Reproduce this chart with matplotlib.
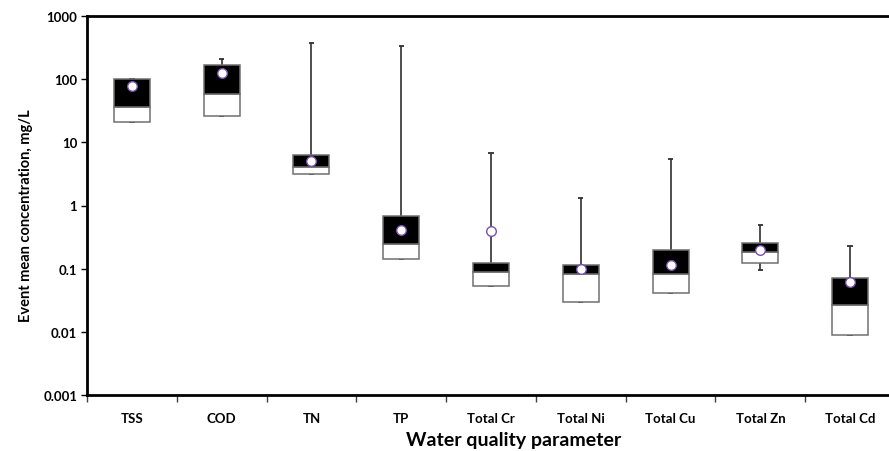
import numpy as np
import matplotlib
matplotlib.use('Agg')
import matplotlib.pyplot as plt
from matplotlib.ticker import FixedLocator, NullLocator

plt.rcParams['font.family'] = ['Lato', 'DejaVu Sans']

params = ['TSS', 'COD', 'TN', 'TP', 'Total Cr', 'Total Ni', 'Total Cu', 'Total Zn', 'Total Cd']
# box statistics, mg/L
q_min = [21.3, 25.9, 3.1, 0.141, 0.0534, 0.0298, 0.0414, 0.0957, 0.00897]
q1 = [21.3, 25.9, 3.1, 0.141, 0.0534, 0.0298, 0.0414, 0.125, 0.00897]
med = [35.9, 57.7, 4.0, 0.247, 0.087, 0.0817, 0.0837, 0.182, 0.0267]
q3 = [100, 170, 6.2, 0.68, 0.122, 0.116, 0.200, 0.253, 0.0724]
q_max = [100, 209, 370, 335, 6.9, 1.30, 5.46, 0.50, 0.23]
mean = [77, 127, 5.1, 0.415, 0.396, 0.099, 0.115, 0.200, 0.061]

fig = plt.figure(figsize=(8.89, 4.52), dpi=100)
ax = fig.add_axes([87/889, 56/452, 808/889, 379/452])
ax.set_yscale('log')

x = np.arange(len(params))
w = 0.4
q1a, meda, q3a = np.array(q1), np.array(med), np.array(q3)

# whiskers first so the boxes sit on top
for xi, lo, b, t, hi in zip(x, q_min, q1, q3, q_max):
    ax.vlines(xi, t, hi, color='#404040', lw=1.3, zorder=1)
    ax.hlines(hi, xi - 0.03, xi + 0.03, color='#303030', lw=1.3, zorder=1)
    ax.vlines(xi, lo, b, color='#404040', lw=1.3, zorder=1)
    ax.hlines(lo, xi - 0.03, xi + 0.03, color='#303030', lw=1.3, zorder=1)

ax.bar(x, meda - q1a, bottom=q1a, width=w, color='white', edgecolor='#707070', lw=1.1, zorder=2)
ax.bar(x, q3a - meda, bottom=meda, width=w, color='black', edgecolor='#707070', lw=1.1, zorder=2)
ax.scatter(x, mean, s=48, marker='o', facecolor='white', edgecolor='#7b4fb0', lw=1.0, zorder=3)

ax.set_xlim(-0.5, len(params) - 0.5)
ax.set_ylim(0.001, 1000)
yt = [0.001, 0.01, 0.1, 1, 10, 100, 1000]
ax.yaxis.set_major_locator(FixedLocator(yt))
ax.yaxis.set_minor_locator(NullLocator())
ax.set_yticklabels(['0.001', '0.01', '0.1', '1', '10', '100', '1000'], fontsize=9.5, fontweight='bold')

ax.set_xticks(x)
ax.set_xticklabels(params, fontsize=9.5, fontweight='bold')
ax.tick_params(axis='x', which='major', length=0, pad=12)
ax.set_xticks(np.arange(len(params) + 1) - 0.5, minor=True)
ax.tick_params(axis='x', which='minor', length=5, width=1, color='#404040', direction='out')
ax.tick_params(axis='y', length=4, width=1, direction='out', pad=3)

for s in ['left', 'bottom', 'top']:
    ax.spines[s].set_linewidth(2)
    ax.spines[s].set_color('black')
ax.spines['right'].set_visible(False)

ax.set_ylabel('Event mean concentration, mg/L', fontsize=10.5, fontweight='bold')
ax.set_xlabel('Water quality parameter', fontsize=14, fontweight='bold')
ax.yaxis.set_label_coords(-0.067, 0.475)
ax.xaxis.set_label_coords(0.528, -0.094)

fig.savefig('out.png', dpi=100)
